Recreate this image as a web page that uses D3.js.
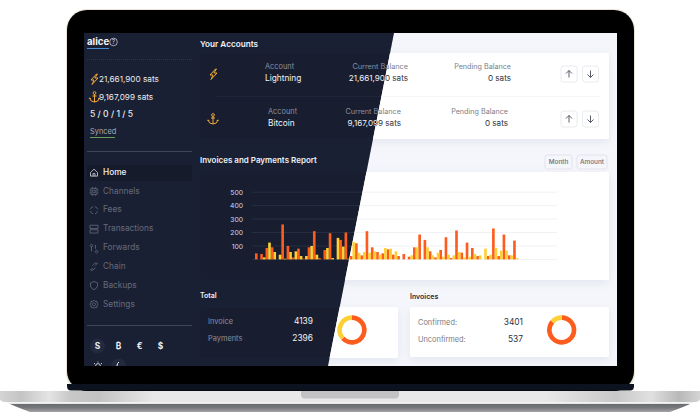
<!DOCTYPE html>
<html><head><meta charset="utf-8">
<script src="https://cdn.jsdelivr.net/npm/d3@7/dist/d3.min.js"></script>
<style>html,body{margin:0;padding:0;background:#fff}svg{display:block}text{font-family:Inter,"Noto Sans",sans-serif}</style>
</head><body><svg id="c" width="700" height="420"></svg>
<script>
const orangeVals=[45,40,85,90,0,260,100,15,80,5,90,210,10,70,195,0,145,200,25,120,30,210,90,55,45,75,35,25,40,20,90,185,145,60,15,70,165,10,215,50,125,85,25,0,25,230,25,185,30,140];
const yellowVals=[0,15,125,55,35,5,55,60,25,25,100,35,0,85,10,160,95,5,130,50,55,50,60,35,85,80,60,0,0,30,90,0,90,30,50,20,35,30,55,15,20,40,30,80,35,85,65,65,30,10];
const yTicks=[100,200,300,400,500];
const navItems=["Home","Channels","Fees","Transactions","Forwards","Chain","Backups","Settings"];
const currencies=["S","₿","€","$"];
const totalVals=[4139,2396];
const invoiceVals=[3401,537];
const ORANGE="#fc5d1e",YELLOW="#fdd035";

const svg=d3.select("#c");
const defs=svg.append("defs");
const silver=defs.append("linearGradient").attr("id","silver").attr("x1",0).attr("y1",0).attr("x2",0).attr("y2",1);
[[0,"#e4e4e4"],[.55,"#f2f2f2"],[.6,"#e6e6e6"],[.63,"#6a6b6e"],[.8,"#77787b"],[1,"#a4a4a6"]].forEach(s=>silver.append("stop").attr("offset",s[0]).attr("stop-color",s[1]));
const side=defs.append("linearGradient").attr("id","side");
[[0,"#d4d4d4"],[.03,"#c4c4c4"],[.07,"#e4e4e4"],[.1,"#c8c8c8"],[.14,"#c2c2c2"],[.22,"#e8e8e8"],[.78,"#e8e8e8"],[.88,"#c8c8c8"],[.93,"#e0e0e0"],[.97,"#b8b8b8"],[1,"#d4d4d4"]].forEach(s=>side.append("stop").attr("offset",s[0]).attr("stop-color",s[1]));
defs.append("clipPath").attr("id","screen").append("rect").attr("x",84).attr("y",33).attr("width",533).attr("height",333);
defs.append("clipPath").attr("id","darkClip").append("polygon").attr("points","84,33 394,33 328,366 84,366");
defs.append("clipPath").attr("id","lightClip").append("polygon").attr("points","394,33 617,33 617,366 328,366");
const blur=defs.append("filter").attr("id","soft").attr("x","-10%").attr("y","-20%").attr("width","120%").attr("height","150%");
blur.append("feDropShadow").attr("dx",0).attr("dy",3).attr("stdDeviation",4).attr("flood-color","#8a93b0").attr("flood-opacity",.16);

// laptop body
svg.append("rect").attr("x",66).attr("y",9).attr("width",569).attr("height",385).attr("rx",21).attr("fill","#e9e4d6");
svg.append("rect").attr("x",67).attr("y",10).attr("width",567).attr("height",381).attr("rx",20).attr("fill","#000");
svg.append("path").attr("d","M67,384H634V386Q634,390.5 630,390.5H71Q67,390.5 67,386Z").attr("fill","#0c1220");
svg.append("path").attr("d","M0,391H700V397Q700,401 670,412H30Q0,401 0,397Z").attr("fill","url(#silver)");
svg.append("path").attr("d","M0,391H700V399Q700,401 696,402H4Q0,401 0,399Z").attr("fill","url(#side)");
svg.append("path").attr("d","M301,391H399V394.5Q399,398.5 395,398.5H305Q301,398.5 301,394.5Z").attr("fill","#c2c2c4");

const screen=svg.append("g").attr("clip-path","url(#screen)");

const boltD="M2.5,-5 L-3,1 L0,1 L-2,5.5 L4,-1 L0.8,-1 L3.5,-5 Z";
function bolt(g,x,y,c){g.append("path").attr("transform",`translate(${x},${y})`).attr("d",boltD).attr("fill","none").attr("stroke",c).attr("stroke-width",1);}
function anchor(g,x,y,c){g.append("path").attr("transform",`translate(${x},${y})`).attr("d","M0,-3V5M-2,-1H2M-5,1Q-4,5 0,5Q4,5 5,1M-5.3,1.8L-4.8,0.8L-3.8,1.8M5.3,1.8L4.8,0.8L3.8,1.8").attr("fill","none").attr("stroke",c).attr("stroke-width",1);g.append("circle").attr("cx",x).attr("cy",y-4).attr("r",1.4).attr("fill","none").attr("stroke",c).attr("stroke-width",.9);}
function txt(g,s,x,y,o){const t=g.append("text").attr("x",x).attr("y",y).attr("dominant-baseline","middle").attr("font-size",o.size||8).attr("fill",o.fill).attr("font-weight",o.w||400).text(s);if(o.end)t.attr("text-anchor","end");if(o.mid)t.attr("text-anchor","middle");return t;}

const y=d3.scaleLinear().domain([0,500]).range([259.4,192.2]);
const x0=d3.scaleBand().domain(d3.range(orangeVals.length)).range([255,518.4]);
const x1=d3.scaleBand().domain(["o","y"]).range([0,x0.bandwidth()]);
const arc=d3.arc().innerRadius(10).outerRadius(14.7);
const pie=d3.pie().sort(null);

function main(g,T){
  g.append("rect").attr("x",84).attr("y",33).attr("width",533).attr("height",333).attr("fill",T.bg);
  const card=(x,yy,w,h)=>{const r=g.append("rect").attr("x",x).attr("y",yy).attr("width",w).attr("height",h).attr("rx",1.5).attr("fill",T.card);if(T.shadow)r.attr("filter","url(#soft)");else r.attr("stroke","#1e2539").attr("stroke-width",.5);};
  card(200,53,409,86);card(200,172,409,108);card(200,307,198,51);card(410,307,199,50);
  txt(g,"Your Accounts",200,45,{size:8.2,fill:T.head,w:600});
  txt(g,"Invoices and Payments Report",200,161,{size:8,fill:T.head,w:600});
  txt(g,"Total",200,296,{size:7,fill:T.head,w:600});
  txt(g,"Invoices",410,297,{size:7,fill:T.head,w:600});
  g.append("line").attr("x1",215).attr("x2",601).attr("y1",96.5).attr("y2",96.5).attr("stroke",T.line).attr("stroke-width",.7);
  bolt(g,213,74,"#f2a93b");anchor(g,213,119,"#f2a93b");
  const rows=[["Lightning","21,661,900 sats",265,408,511,67,79],["Bitcoin","9,167,099 sats",268,401,508,112,124]];
  rows.forEach(r=>{
    txt(g,"Account",r[2],r[5],{size:7.4,fill:T.sub});
    txt(g,r[0],r[2],r[6],{size:8.3,fill:T.val});
    txt(g,"Current Balance",r[3],r[5],{size:7.3,fill:T.sub,end:1});
    txt(g,r[1],r[3],r[6],{size:8.1,fill:T.val,end:1});
    txt(g,"Pending Balance",r[4],r[5],{size:7.2,fill:T.sub,end:1});
    txt(g,"0 sats",r[4],r[6],{size:8.1,fill:T.val,end:1});
    [[561,"M0,-3.5V3.5M-3,-0.5L0,-3.5L3,-0.5"],[582.5,"M0,-3.5V3.5M-3,0.5L0,3.5L3,0.5"]].forEach(b=>{
      g.append("rect").attr("x",b[0]).attr("y",r[5]-1).attr("width",16).attr("height",16).attr("rx",2.5).attr("fill",T.card).attr("stroke","#e2e4ea").attr("stroke-width",.8);
      g.append("path").attr("transform",`translate(${b[0]+8},${r[5]+7})`).attr("d",b[1]).attr("fill","none").attr("stroke","#444a58").attr("stroke-width",.9);
    });
  });
  [["Month",545,27],["Amount",577,30]].forEach(b=>{
    g.append("rect").attr("x",b[1]).attr("y",155).attr("width",b[2]).attr("height",14).attr("rx",2).attr("fill",T.bg).attr("stroke","#dedfe4").attr("stroke-width",.8);
    txt(g,b[0],b[1]+b[2]/2,162,{size:6.4,fill:"#6b6f7a",mid:1,w:500});
  });
  // grid + axis
  const ax=g.append("g").attr("transform","translate(252,0)").call(d3.axisLeft(y).tickValues(yTicks).tickSize(0).tickPadding(9));
  ax.select(".domain").remove();
  ax.selectAll("text").attr("font-size",6.8).attr("fill",T.axis).attr("font-family","Inter");
  g.selectAll(null).data(yTicks).join("line").attr("x1",252).attr("x2",557).attr("y1",d=>y(d)).attr("y2",d=>y(d)).attr("stroke",T.grid).attr("stroke-width",.8);
  g.append("line").attr("x1",252).attr("x2",557).attr("y1",y(0)+.2).attr("y2",y(0)+.2).attr("stroke",T.grid).attr("stroke-width",.8);
  // bottom cards
  txt(g,"Invoice",208,322,{size:7.4,fill:T.sub});
  txt(g,"Payments",208,338.5,{size:7.4,fill:T.sub});
  txt(g,d3.format("d")(totalVals[0]),313,322,{size:8.4,fill:T.val,end:1});
  txt(g,d3.format("d")(totalVals[1]),313,339,{size:8.4,fill:T.val,end:1});
  txt(g,"Confirmed:",418,323,{size:7.4,fill:T.sub});
  txt(g,"Unconfirmed:",418,340,{size:7.4,fill:T.sub});
  txt(g,d3.format("d")(invoiceVals[0]),523,323,{size:8.4,fill:T.val,end:1});
  txt(g,d3.format("d")(invoiceVals[1]),523,340,{size:8.4,fill:T.val,end:1});
}
const dark={bg:"#1a2033",card:"#181e30",head:"#eef0f5",sub:"#8a90a0",val:"#f0f2f6",line:"#21283c",grid:"#2c3346",axis:"#cfd6e6",shadow:false};
const light={bg:"#f5f6fb",card:"#ffffff",head:"#262c40",sub:"#7a7d87",val:"#30343f",line:"#eef0f4",grid:"#eceef2",axis:"#888",shadow:true};
main(screen.append("g").attr("clip-path","url(#darkClip)"),dark);
main(screen.append("g").attr("clip-path","url(#lightClip)"),light);

// bars
const bars=screen.append("g");
[["o",orangeVals,ORANGE],["y",yellowVals,YELLOW]].forEach(([k,vals,c])=>{
  bars.append("g").selectAll("rect").data(vals).join("rect")
    .attr("x",(d,i)=>x0(i)+x1(k)).attr("width",x1.bandwidth())
    .attr("y",d=>y(d)).attr("height",d=>y(0)-y(d)).attr("fill",c);
});
// donuts
[[352,330,totalVals],[561.7,330,invoiceVals]].forEach(([cx,cy,v])=>{
  screen.append("g").attr("transform",`translate(${cx},${cy})`).selectAll("path").data(pie(v)).join("path")
    .attr("d",arc).attr("fill",(d,i)=>i?YELLOW:ORANGE);
});

// sidebar
const sb=screen.append("g");
txt(sb,"alice",87,42,{size:9.6,fill:"#f4f5f8",w:700});
sb.append("circle").attr("cx",113.5).attr("cy",42).attr("r",3.8).attr("fill","none").attr("stroke","#d8dbe2").attr("stroke-width",.7);
txt(sb,"?",113.5,42.2,{size:5.6,fill:"#d8dbe2",mid:1});
sb.append("line").attr("x1",87).attr("x2",109).attr("y1",48.5).attr("y2",48.5).attr("stroke","#4d97e8").attr("stroke-width",.9);
sb.append("line").attr("x1",87).attr("x2",192).attr("y1",59.5).attr("y2",59.5).attr("stroke","#3a4154").attr("stroke-width",.7).attr("stroke-dasharray","1 1");
bolt(sb,94,79,"#f2a93b");anchor(sb,94.5,97,"#f2a93b");
txt(sb,"21,661,900 sats",99,79.5,{size:8.2,fill:"#e8eaf0"});
txt(sb,"9,167,099 sats",99,97.5,{size:8.2,fill:"#e8eaf0"});
txt(sb,"5 / 0 / 1 / 5",90,114.5,{size:8.6,fill:"#e8eaf0",w:500});
txt(sb,"Synced",90,131.5,{size:7.4,fill:"#a8adb8"});
sb.append("line").attr("x1",90).attr("x2",115).attr("y1",137.5).attr("y2",137.5).attr("stroke","#6fae5a").attr("stroke-width",.9);
sb.append("line").attr("x1",87).attr("x2",192).attr("y1",151.5).attr("y2",151.5).attr("stroke","#4a5062").attr("stroke-width",.8);
sb.append("rect").attr("x",87).attr("y",165).attr("width",105).attr("height",16).attr("rx",1).attr("fill","#161b2b");
const navY=d3.scalePoint().domain(navItems).range([172.6,304.3]);
const navIcon=["M-3.5,0L0,-3.5L3.5,0V3.5H-3.5ZM-1,3.5V1H1V3.5","M-3,-3H3V3H-3ZM-1.3,-1.3H1.3V1.3H-1.3ZM-1.5,-4.3V-3M1.5,-4.3V-3M-1.5,3V4.3M1.5,3V4.3M-4.3,-1.5H-3M-4.3,1.5H-3M3,-1.5H4.3M3,1.5H4.3","M-3.6,-1A3.8,3.8 0 0 1 -1,-3.6M1,-3.6A3.8,3.8 0 0 1 3.6,-1M3.6,1A3.8,3.8 0 0 1 1,3.6M-1,3.6A3.8,3.8 0 0 1 -3.6,1","M-4,-3.8H4V-0.5H-4ZM-4,0.8H4V4H-4Z","M-2.5,-1.5V3.5M-2.5,-3.5a1.3,1.3 0 1 0 .01,0M1.5,-3V1M2.5,2.5a1.3,1.3 0 1 0 .01,0","M-3.5,3.5L-1,1M1,-1L3.5,-3.5M-1.5,-1L1,-3.5Q2.5,-4 3.5,-3M1.5,1L-1,3.5Q-2.5,4 -3.5,3","M0,-4L3.5,-2.6V0.5Q3,3 0,4.2Q-3,3 -3.5,0.5V-2.6Z","M0,-1.5a1.5,1.5 0 1 0 .01,0M0,-4.2L1,-3L3,-3L3,-1L4.2,0L3,1L3,3L1,3L0,4.2L-1,3L-3,3L-3,1L-4.2,0L-3,-1L-3,-3L-1,-3Z"];
navItems.forEach((n,i)=>{
  const c=i?"#646b7c":"#eef0f5";
  sb.append("path").attr("transform",`translate(94,${navY(n)})`).attr("d",navIcon[i]).attr("fill","none").attr("stroke",i?"#646b7c":"#d8dbe2").attr("stroke-width",.8);
  txt(sb,n,103,navY(n),{size:8.3,fill:c,w:i?400:500});
});
sb.append("line").attr("x1",87).attr("x2",192).attr("y1",325.5).attr("y2",325.5).attr("stroke","#4a5062").attr("stroke-width",.8);
sb.append("circle").attr("cx",97.5).attr("cy",346).attr("r",7.5).attr("fill","#232a3e");
currencies.forEach((c,i)=>txt(sb,c,97.5+i*21,346.5,{size:8.4,fill:"#eef0f5",w:700,mid:1}));
sb.append("circle").attr("cx",118.5).attr("cy",366).attr("r",7.5).attr("fill","#232a3e");
sb.append("circle").attr("cx",98).attr("cy",366).attr("r",2.4).attr("fill","none").attr("stroke","#eef0f5").attr("stroke-width",.8);
sb.append("path").attr("d","M98,361.5V362.5M94,363L95,364M102,363L101,364").attr("stroke","#eef0f5").attr("stroke-width",.8);
sb.append("path").attr("d","M117,366Q117,363 119,362").attr("fill","none").attr("stroke","#eef0f5").attr("stroke-width",1);
</script></body></html>
